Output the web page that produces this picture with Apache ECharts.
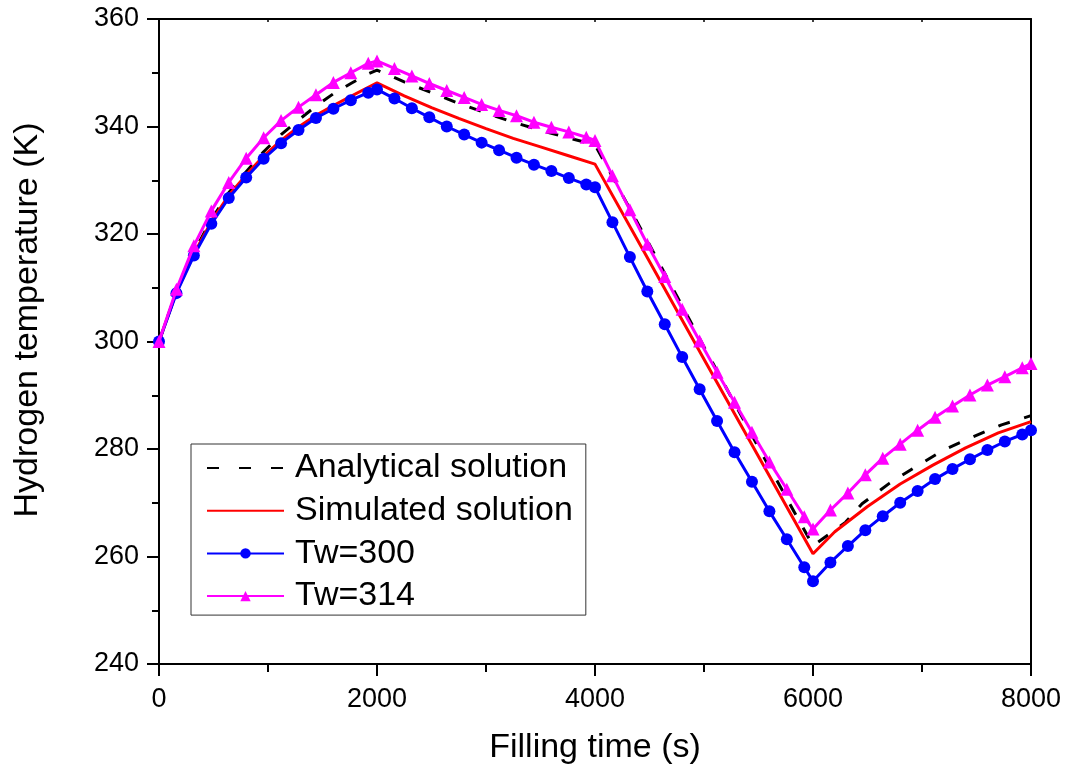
<!DOCTYPE html>
<html>
<head>
<meta charset="utf-8">
<script src="https://cdn.jsdelivr.net/npm/echarts@6/dist/echarts.min.js"></script>
<style>
html,body{margin:0;padding:0;background:#fff;}
#chart{width:1068px;height:775px;}
</style>
</head>
<body>
<div id="chart"></div>
<script>
// ---- Data ----
const seriesNames = ['Analytical solution', 'Simulated solution', 'Tw=300', 'Tw=314'];
const xAxisTitle = 'Filling time (s)';
const yAxisTitle = 'Hydrogen temperature (K)';

const analyticalTime = [0,160,320,480,640,800,960,1120,1280,1440,1600,1760,1920,2000,
  2250,2500,2750,3000,3250,3500,3750,4000,
  4500,5000,5500,6000,
  6300,6450,6700,6950,7200,7470,7730,8000];
const analyticalTemp = [300,309.3,316.6,322.7,327.7,331.6,335.3,338.5,341.2,343.8,346.1,348.0,349.8,350.5,
  348.3,346.3,344.3,342.5,340.8,339.3,337.9,336.6,
  318.0,299.0,280.3,262.0,
  266.4,269.8,273.6,276.8,279.8,282.3,284.5,286.2];

const simulatedTime = [0,160,320,480,640,800,960,1120,1280,1440,1600,1760,1920,2000,
  2250,2500,2750,3000,3250,3500,3750,4000,
  4500,5000,5500,6000,
  6200,6500,6800,7100,7400,7700,8000];
const simulatedTemp = [300,309.2,316.3,322.3,327.2,331.0,334.5,337.4,339.9,342.1,343.9,345.6,347.3,348.1,
  345.7,343.5,341.5,339.6,337.8,336.2,334.6,333.0,
  314.9,296.7,278.6,260.5,
  264.6,269.3,273.5,277.0,280.2,283.0,285.1];

const markerTime = [0,160,320,480,640,800,960,1120,1280,1440,1600,1760,1920,2000,
  2160,2320,2480,2640,2800,2960,3120,3280,3440,3600,3760,3920,4000,
  4160,4320,4480,4640,4800,4960,5120,5280,5440,5600,5760,5920,6000,
  6160,6320,6480,6640,6800,6960,7120,7280,7440,7600,7760,7920,8000];
const tw300Temp = [300,309.0,316.0,321.9,326.7,330.5,334.0,336.9,339.35,341.6,343.3,344.9,346.3,346.9,
  345.2,343.4,341.7,340.0,338.5,337.0,335.6,334.2,332.9,331.7,330.4,329.2,328.7,
  322.2,315.7,309.3,303.2,297.1,291.1,285.2,279.4,273.9,268.4,263.2,258.0,255.4,
  258.9,261.95,264.9,267.5,270.0,272.2,274.4,276.3,278.1,279.8,281.4,282.7,283.5];
const tw314Temp = [300,309.7,317.8,324.3,329.6,334.1,337.9,341.1,343.6,345.9,348.2,350.0,351.75,352.2,
  350.8,349.4,348.0,346.7,345.4,344.1,343.0,342.0,340.8,339.85,339.0,338.0,337.4,
  330.85,324.5,318.1,312.1,306.0,300.1,294.3,288.7,283.1,277.6,272.5,267.4,265.1,
  268.65,271.8,275.2,278.3,280.9,283.5,285.9,288.0,290.05,291.9,293.45,295.1,295.9];

const xTicks = {min: 0, max: 8000, interval: 2000};
const yTicks = {min: 240, max: 360, interval: 20};

function pairs(xs, ys){ return xs.map((x,i)=>[x, ys[i]]); }

const FONT = 'Liberation Sans, Arial, sans-serif';
const chart = echarts.init(document.getElementById('chart'), null, {renderer:'canvas'});

const option = {
  backgroundColor: '#fff',
  animation: false,
  textStyle: {fontFamily: FONT},
  grid: {left: 159, right: 37, top: 19, bottom: 111, containLabel: false},
  legend: {
    orient: 'vertical',
    left: 191, top: 444,
    padding: [7, 13, 2, 15],
    itemGap: 8.7,
    itemWidth: 77,
    itemHeight: 13,
    borderColor: '#333',
    borderWidth: 1,
    backgroundColor: '#fff',
    textStyle: {fontFamily: FONT, fontSize: 34, color: '#000', padding: [0,0,0,6]},
    data: [
      {name: seriesNames[0], itemStyle: {opacity: 0}, lineStyle: {type: [12, 20]}},
      {name: seriesNames[1], itemStyle: {opacity: 0}},
      {name: seriesNames[2]},
      {name: seriesNames[3]}
    ]
  },
  graphic: [{
    type: 'text',
    x: 28, y: 320,
    rotation: Math.PI / 2,
    style: {
      text: yAxisTitle,
      font: '34px ' + FONT,
      fill: '#000',
      align: 'center',
      verticalAlign: 'middle'
    }
  }],
  xAxis: [{
    type: 'value', min: xTicks.min, max: xTicks.max, interval: xTicks.interval,
    position: 'bottom',
    name: xAxisTitle, nameLocation: 'middle', nameGap: 67,
    nameTextStyle: {fontFamily: FONT, fontSize: 34, color: '#000'},
    axisLine: {show: true, onZero: false, lineStyle: {color: '#000', width: 2}},
    axisTick: {show: true, inside: false, length: 12, lineStyle: {color: '#000', width: 2}},
    minorTick: {show: true, splitNumber: 2, length: 8, lineStyle: {color: '#000', width: 2}},
    axisLabel: {fontFamily: FONT, fontSize: 27, color: '#000', margin: 22, formatter: v => String(v)},
    splitLine: {show: false}
  }, {
    type: 'value', min: xTicks.min, max: xTicks.max, interval: 1000,
    position: 'top',
    axisLine: {show: true, onZero: false, lineStyle: {color: '#000', width: 2}},
    axisTick: {show: true, inside: true, length: 3, lineStyle: {color: '#000', width: 1.5}},
    axisLabel: {show: false},
    splitLine: {show: false}
  }],
  yAxis: [{
    type: 'value', min: yTicks.min, max: yTicks.max, interval: yTicks.interval,
    position: 'left',
    axisLine: {show: true, onZero: false, lineStyle: {color: '#000', width: 2}},
    axisTick: {show: true, inside: false, length: 12, lineStyle: {color: '#000', width: 2}},
    minorTick: {show: true, splitNumber: 2, length: 7, lineStyle: {color: '#000', width: 2}},
    axisLabel: {fontFamily: FONT, fontSize: 27, color: '#000', margin: 20, formatter: v => String(v)},
    splitLine: {show: false}
  }, {
    type: 'value', min: yTicks.min, max: yTicks.max, interval: yTicks.interval,
    position: 'right',
    axisLine: {show: true, onZero: false, lineStyle: {color: '#000', width: 2}},
    axisTick: {show: false},
    axisLabel: {show: false},
    splitLine: {show: false}
  }],
  series: [
    {
      name: seriesNames[0], type: 'line', xAxisIndex: 0, yAxisIndex: 0,
      data: pairs(analyticalTime, analyticalTemp),
      showSymbol: false, symbol: 'none',
      lineStyle: {color: '#000', width: 3, type: [12, 15]},
      itemStyle: {color: '#000'},
      z: 2
    },
    {
      name: seriesNames[1], type: 'line', xAxisIndex: 0, yAxisIndex: 0,
      data: pairs(simulatedTime, simulatedTemp),
      showSymbol: false, symbol: 'none',
      lineStyle: {color: '#ff0000', width: 3},
      itemStyle: {color: '#ff0000'},
      z: 3
    },
    {
      name: seriesNames[2], type: 'line', xAxisIndex: 0, yAxisIndex: 0,
      data: pairs(markerTime, tw300Temp),
      symbol: 'circle', symbolSize: 12,
      lineStyle: {color: '#0000ff', width: 3},
      itemStyle: {color: '#0000ff', borderWidth: 0},
      z: 4
    },
    {
      name: seriesNames[3], type: 'line', xAxisIndex: 0, yAxisIndex: 0,
      data: pairs(markerTime, tw314Temp),
      symbol: 'triangle', symbolSize: 13,
      lineStyle: {color: '#ff00ff', width: 3},
      itemStyle: {color: '#ff00ff', borderWidth: 0},
      z: 5
    }
  ]
};
chart.setOption(option);
</script>
</body>
</html>
